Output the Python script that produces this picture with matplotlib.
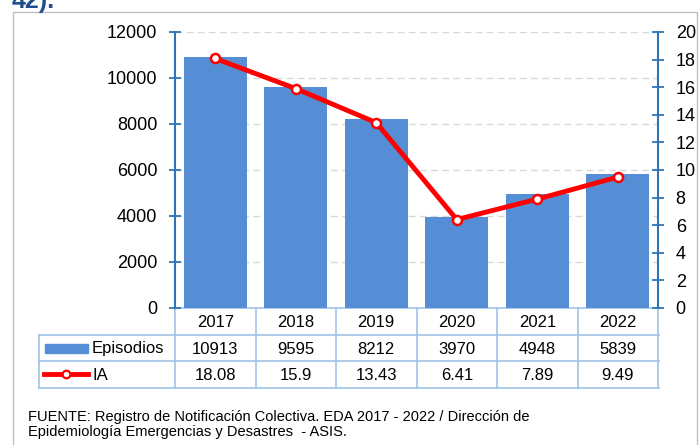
import numpy as np
import matplotlib.pyplot as plt
from matplotlib.patches import Rectangle
from matplotlib.lines import Line2D
from matplotlib.transforms import blended_transform_factory

plt.rcParams['font.family'] = ['Liberation Sans', 'DejaVu Sans']

# Data
years = ['2017', '2018', '2019', '2020', '2021', '2022']
episodios = [10913, 9595, 8212, 3970, 4948, 5839]
ia = [18.08, 15.9, 13.43, 6.41, 7.89, 9.49]
ia_labels = ['18.08', '15.9', '13.43', '6.41', '7.89', '9.49']

BAR_BLUE = '#558ED5'
AXIS_BLUE = '#2E75B6'
GRID_BLUE = '#9DC3E6'
RED = '#FF0000'

W, H = 700, 445
fig = plt.figure(figsize=(7, 4.45), dpi=100)

# overlay in pixel coordinates for frame, table and notes
ov = fig.add_axes([0, 0, 1, 1])
ov.set_xlim(0, W)
ov.set_ylim(H, 0)
ov.axis('off')

# chart area, pixels: left 175, right 658, top 32, bottom 308
L, R, T, B = 175, 658, 32, 308
ax = fig.add_axes([L / W, 1 - B / H, (R - L) / W, (B - T) / H])
x = np.arange(len(years))

ax.bar(x, episodios, width=0.78, color=BAR_BLUE, zorder=2)
ax.set_xlim(-0.5, len(years) - 0.5)
ax.set_ylim(0, 12000)
ax.set_yticks(np.arange(0, 12001, 2000))
ax.set_xticks([])
ax.yaxis.grid(True, color='#D9D9D9', linestyle=(0, (5, 3)), linewidth=1)
ax.set_axisbelow(True)

ax2 = ax.twinx()
ax2.plot(x, ia, color=RED, linewidth=3.5, marker='o', markersize=6.5,
         markerfacecolor='white', markeredgecolor=RED, markeredgewidth=1.8, zorder=3)
ax2.set_ylim(0, 20)
ax2.set_yticks(np.arange(0, 21, 2))

for a in (ax, ax2):
    a.patch.set_alpha(0)
    for s in ('top', 'bottom'):
        a.spines[s].set_visible(False)
    a.spines['left'].set_color(AXIS_BLUE)
    a.spines['right'].set_color(AXIS_BLUE)
    a.spines['left'].set_linewidth(1.5)
    a.spines['right'].set_linewidth(1.5)
    a.tick_params(axis='y', direction='inout', length=8.5, width=1.3,
                  color=AXIS_BLUE, labelsize=13, pad=8.5, labelcolor='black')
ax.spines['right'].set_visible(False)
ax2.spines['left'].set_visible(False)

# frame and heading
ov.add_patch(Rectangle((13, 12), 684, 440, fill=False, edgecolor='#BFBFBF', linewidth=1))
ov.text(12, 8, '42).', fontsize=18, fontweight='bold', color='#1F4E8C',
        ha='left', va='baseline')

# data table under the chart
tr = blended_transform_factory(ax.transData, ov.transData)
rows = [308, 335, 361, 388]
x_edges = np.arange(len(years) + 1) - 0.5
tab_kw = dict(color=GRID_BLUE, linewidth=1.2)

# horizontal rules
ov.add_line(Line2D([L, R + 1], [rows[0], rows[0]], **tab_kw))
for yy in rows[1:]:
    ov.add_line(Line2D([39, R + 1], [yy, yy], **tab_kw))
# vertical rules
for xe in x_edges:
    ov.add_line(Line2D([xe, xe], [rows[0], rows[3]], transform=tr, **tab_kw))
ov.add_line(Line2D([39, 39], [rows[1], rows[3]], **tab_kw))

for i, yr in enumerate(years):
    ov.text(i, (rows[0] + rows[1]) / 2 + 1, yr, transform=tr, ha='center',
            va='center', fontsize=12)
    ov.text(i, (rows[1] + rows[2]) / 2 + 1, str(episodios[i]), transform=tr,
            ha='center', va='center', fontsize=12)
    ov.text(i, (rows[2] + rows[3]) / 2 + 1, ia_labels[i], transform=tr,
            ha='center', va='center', fontsize=12)

# legend keys inside the table
ov.add_patch(Rectangle((45, 344), 43, 9, color=BAR_BLUE))
ov.text(92, (rows[1] + rows[2]) / 2 + 1, 'Episodios', ha='left', va='center', fontsize=12)
ov.add_line(Line2D([44, 88], [374, 374], color=RED, linewidth=3.5))
ov.add_line(Line2D([66], [374], color=RED, marker='o', markersize=5.5,
                   markerfacecolor='white', markeredgewidth=1.6))
ov.text(92, (rows[2] + rows[3]) / 2 + 1, 'IA', ha='left', va='center', fontsize=12)

# source note
ov.text(28, 421, 'FUENTE: Registro de Notificación Colectiva. EDA 2017 - 2022 / Dirección de',
        ha='left', va='baseline', fontsize=10.5)
ov.text(28, 436, 'Epidemiología Emergencias y Desastres  - ASIS.',
        ha='left', va='baseline', fontsize=10.5)

fig.savefig('out.png', dpi=100)
